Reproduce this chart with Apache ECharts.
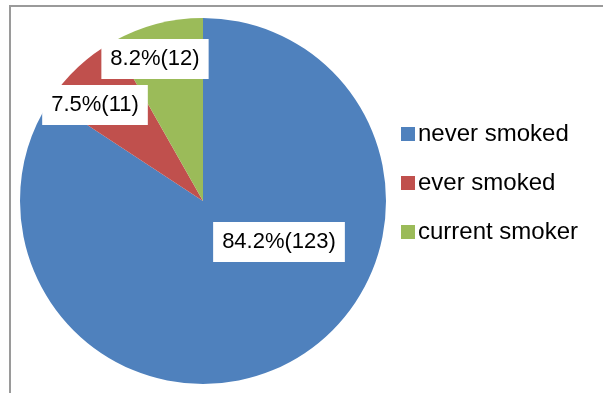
<!DOCTYPE html>
<html><head><meta charset="utf-8">
<script src="https://cdn.jsdelivr.net/npm/echarts@6/dist/echarts.min.js"></script>
<style>html,body{margin:0;padding:0;background:#fff}#c{width:603px;height:393px}</style>
</head><body><div id="c"></div>
<script>
const categories = ['never smoked', 'ever smoked', 'current smoker'];
const counts = [123, 11, 12];
const percents = ['84.2%', '7.5%', '8.2%'];
const colors = ['#4F81BD', '#C0504D', '#9BBB59'];
const labelPos = [[279, 242], [95, 105], [155, 59]];

const chart = echarts.init(document.getElementById('c'), null, {renderer: 'canvas'});
chart.setOption({
  animation: false,
  graphic: [{
    type: 'rect', shape: {x: 10, y: 6, width: 800, height: 600},
    style: {fill: 'none', stroke: '#9a9a9a', lineWidth: 2}, silent: true
  }],
  legend: {
    orient: 'vertical', left: 396, top: 117,
    itemWidth: 14, itemHeight: 14, itemGap: 25,
    icon: 'rect',
    textStyle: {fontFamily: 'Liberation Sans', fontSize: 24, color: '#000', padding: [0, 0, 0, -2]},
    data: categories
  },
  series: [{
    type: 'pie',
    center: [203, 201], radius: 183,
    startAngle: 90, clockwise: true,
    label: {
      show: true, position: 'inside',
      formatter: p => percents[p.dataIndex] + '(' + counts[p.dataIndex] + ')',
      fontFamily: 'Liberation Sans', fontSize: 22, color: '#000',
      backgroundColor: '#fff', padding: [9, 9, 9, 9]
    },
    labelLine: {show: false},
    labelLayout: p => ({x: labelPos[p.dataIndex][0], y: labelPos[p.dataIndex][1], align: 'center', verticalAlign: 'middle'}),
    emphasis: {disabled: true},
    data: categories.map((c, i) => ({name: c, value: counts[i], itemStyle: {color: colors[i]}}))
  }]
});
</script></body></html>
